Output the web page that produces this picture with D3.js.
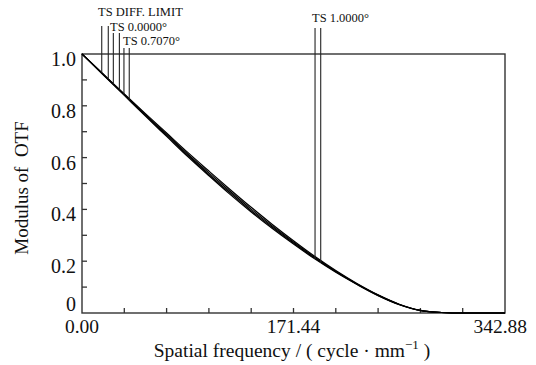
<!DOCTYPE html>
<html><head><meta charset="utf-8">
<script src="https://cdn.jsdelivr.net/npm/d3@7"></script>
<style>body{margin:0;background:#fff}svg{display:block}text{font-family:"Liberation Serif","Times New Roman",serif;fill:#111}</style>
</head><body><svg id="c" width="536" height="365"></svg>
<script>
// ---- data ----
const freqs = [0,17.14,34.29,51.43,68.58,85.72,102.86,120.0,137.15,154.3,171.44,188.6,205.7,222.9,240.0,257.2,274.3,291.5,308.6,325.7,342.88];
const diffLimit = [1,.923,.846,.770,.695,.620,.548,.477,.408,.342,.279,.219,.164,.114,.070,.034,.010,.002,0,0,0];
const field0000 = [1,.922,.844,.766,.690,.614,.541,.470,.401,.336,.274,.215,.161,.112,.069,.033,.010,.002,0,0,0];
const field0707 = [1,.921,.842,.763,.686,.609,.535,.464,.395,.331,.270,.212,.159,.111,.068,.033,.010,.002,0,0,0];
const field1000 = [1,.920,.840,.760,.682,.604,.530,.458,.390,.326,.266,.209,.157,.110,.067,.032,.009,.002,0,0,0];
const seriesNames = ["TS DIFF. LIMIT","TS 0.0000°","TS 0.7070°","TS 1.0000°"];
// legend marker lines: frequency, top value, which series they land on
const markerFreq = [16.0,21.3,25.4,30.3,34.0,38.3,188.9,193.5];
const markerTop  = [1.108,1.108,1.081,1.081,1.023,1.023,1.100,1.100];
const markerSeries = [0,0,1,1,2,2,3,3];
const xTickLabels = ["0.00","171.44","342.88"];
const yTickLabels = ["0","0.2","0.4","0.6","0.8","1.0"];

const svg = d3.select("#c");
const L=82,R=505,T=54,B=313;
const x = d3.scaleLinear().domain([0,342.88]).range([L,R]);
const y = d3.scaleLinear().domain([0,1]).range([B,T]);
const all=[diffLimit,field0000,field0707,field1000];

const interp = (arr,f)=>{ for(let i=1;i<freqs.length;i++){ if(f<=freqs[i]){const t=(f-freqs[i-1])/(freqs[i]-freqs[i-1]); return arr[i-1]+t*(arr[i]-arr[i-1]);} } return arr[arr.length-1]; };

// frame
const axc="#333";
svg.append("rect").attr("x",L).attr("y",T).attr("width",R-L).attr("height",B-T).attr("fill","none").attr("stroke",axc).attr("stroke-width",1.4);

// ticks
const xt = d3.range(0,11).map(i=>342.88*i/10);
svg.append("g").selectAll("line").data(xt.slice(1,10)).join("line")
 .attr("x1",d=>x(d)).attr("x2",d=>x(d)).attr("y1",B).attr("y2",B-5).attr("stroke",axc).attr("stroke-width",1.3);
const yt = d3.range(1,10).map(i=>i/10);
svg.append("g").selectAll("line").data(yt).join("line")
 .attr("x1",L).attr("x2",L+5).attr("y1",d=>y(d)).attr("y2",d=>y(d)).attr("stroke",axc).attr("stroke-width",1.3);

// tick labels
svg.append("g").selectAll("text").data(yTickLabels).join("text")
 .attr("x",76).attr("y",(d,i)=>i==0?311:y(i*0.2)+12).attr("text-anchor","end").attr("font-size",20).text(d=>d);
const xl=[0,171.44,342.88];
svg.append("g").selectAll("text").data(xTickLabels).join("text")
 .attr("x",(d,i)=>i==2?527:x(xl[i])).attr("y",333).attr("text-anchor",(d,i)=>i==2?"end":"middle").attr("font-size",19.5).text(d=>d);

// axis titles
svg.append("text").attr("transform","translate(28,188) rotate(-90)").attr("text-anchor","middle").attr("font-size",19).attr("xml:space","preserve").text("Modulus of  OTF");
const xtitle = svg.append("text").attr("x",292).attr("y",357).attr("text-anchor","middle").attr("font-size",19.5);
xtitle.append("tspan").text("Spatial frequency / ( cycle · mm");
xtitle.append("tspan").attr("font-size",13).attr("dy",-8).text("−1");
xtitle.append("tspan").attr("dy",8).text(" )");

// curves
const line = d3.line().x((d,i)=>x(freqs[i])).y(d=>y(d)).curve(d3.curveMonotoneX);
svg.append("g").selectAll("path").data(all).join("path")
 .attr("d",line).attr("fill","none").attr("stroke","#000").attr("stroke-width",1.2);

// marker lines
svg.append("g").selectAll("line").data(markerFreq).join("line")
 .attr("x1",d=>x(d)).attr("x2",d=>x(d))
 .attr("y1",(d,i)=>y(markerTop[i]))
 .attr("y2",(d,i)=>y(interp(all[markerSeries[i]],d)))
 .attr("stroke","#222").attr("stroke-width",1.1);

// marker labels
const lblX=[98,110,123,312], lblY=[16,31,45,22];
svg.append("g").selectAll("text").data(seriesNames).join("text")
 .attr("x",(d,i)=>lblX[i]).attr("y",(d,i)=>lblY[i]).attr("font-size",12.5).text(d=>d);
</script></body></html>
